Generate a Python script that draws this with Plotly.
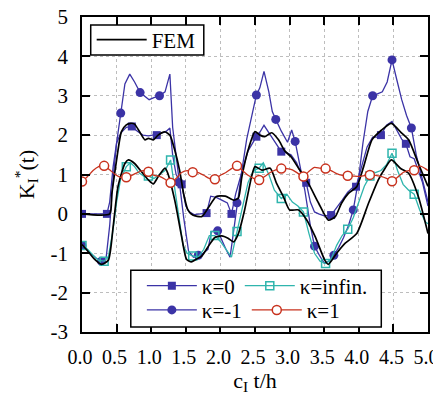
import plotly.graph_objects as go

# ---------------- data ----------------
# kappa = -1 (filled circles)
T_m1 = [0.00, 0.10, 0.20, 0.28, 0.35, 0.40, 0.45, 0.50, 0.56, 0.62, 0.69, 0.76, 0.84, 0.90, 0.97, 1.04,
        1.12, 1.20, 1.27, 1.31, 1.36, 1.40, 1.47, 1.54, 1.61, 1.68, 1.75, 1.82, 1.87, 1.96, 2.02, 2.08,
        2.14, 2.24, 2.31, 2.38, 2.45, 2.52, 2.57, 2.63, 2.70, 2.75, 2.80, 2.88, 2.97, 3.03, 3.08, 3.15,
        3.22, 3.30, 3.36, 3.43, 3.50, 3.57, 3.64, 3.71, 3.78, 3.85, 3.92, 3.99, 4.06, 4.13, 4.20, 4.27,
        4.34, 4.41, 4.48, 4.55, 4.62, 4.69, 4.76, 4.83, 4.90, 4.96, 5.00]
K_m1 = [-0.80, -0.95, -1.12, -1.20, -1.10, -0.30, 0.90, 1.80, 2.56, 3.30, 3.55, 3.35, 3.08, 3.00, 2.90, 2.95,
        3.00, 3.10, 3.55, 2.20, 1.50, 0.80, -0.10, -0.95, -1.10, -1.05, -1.00, -0.90, -0.45, -0.43, -0.67, -0.90,
        -1.10, 0.28, 1.10, 1.90, 2.50, 3.02, 3.20, 3.62, 3.10, 2.60, 2.40, 2.10, 1.82, 2.13, 1.84, 1.20,
        0.60, -0.30, -0.82, -1.05, -1.25, -1.20, -1.05, -0.85, -0.60, -0.30, 0.10, 0.80, 1.80, 2.60, 3.00, 3.05,
        3.10, 3.35, 3.91, 3.40, 2.90, 2.50, 2.18, 1.50, 1.00, 0.60, 0.30]

# kappa = 0 (filled squares)
T_0 = [0.00, 0.18, 0.36, 0.40, 0.45, 0.50, 0.56, 0.64, 0.72, 0.80, 0.88, 0.96, 1.02, 1.08, 1.16, 1.22,
       1.27, 1.31, 1.36, 1.44, 1.50, 1.55, 1.62, 1.70, 1.80, 1.86, 1.94, 2.02, 2.10, 2.16, 2.22, 2.30,
       2.40, 2.52, 2.58, 2.63, 2.70, 2.78, 2.88, 2.96, 3.02, 3.10, 3.16, 3.24, 3.30, 3.36, 3.42, 3.50,
       3.60, 3.68, 3.76, 3.84, 3.90, 3.96, 4.04, 4.12, 4.20, 4.26, 4.32, 4.40, 4.48, 4.56, 4.62, 4.68,
       4.74, 4.80, 4.86, 4.92, 5.00]
K_0 = [0.00, 0.00, 0.00, 0.30, 1.20, 1.80, 2.05, 2.20, 2.22, 2.10, 2.00, 1.98, 2.00, 2.00, 2.05, 2.10,
       2.18, 1.50, 1.00, 0.75, 0.20, 0.05, -0.02, 0.00, 0.02, 0.45, 0.42, 0.35, 0.28, 0.00, 0.50, 1.00,
       1.60, 1.96, 2.10, 2.25, 2.05, 1.85, 1.58, 1.55, 1.50, 1.30, 1.05, 0.79, 0.30, 0.05, 0.00, -0.05,
       -0.03, 0.15, 0.35, 0.55, 0.65, 0.69, 1.20, 1.70, 1.95, 1.95, 2.00, 2.25, 2.35, 2.10, 1.90, 1.78,
       1.45, 1.40, 1.10, 0.80, 0.20]

# kappa = infinity (open squares)
T_inf = [0.00, 0.08, 0.16, 0.24, 0.32, 0.38, 0.44, 0.50, 0.56, 0.64, 0.70, 0.76, 0.82, 0.90, 0.96, 1.04,
         1.12, 1.20, 1.28, 1.34, 1.40, 1.46, 1.52, 1.60, 1.68, 1.76, 1.84, 1.92, 2.00, 2.08, 2.16, 2.24,
         2.32, 2.40, 2.48, 2.56, 2.62, 2.70, 2.78, 2.88, 2.96, 3.04, 3.12, 3.20, 3.28, 3.36, 3.44, 3.52,
         3.60, 3.68, 3.76, 3.84, 3.92, 4.00, 4.08, 4.16, 4.24, 4.32, 4.40, 4.48, 4.56, 4.64, 4.72, 4.80,
         4.88, 4.96, 5.00]
K_inf = [-0.80, -0.90, -1.05, -1.18, -1.20, -1.10, -0.50, 0.30, 0.90, 1.20, 1.30, 1.20, 1.05, 0.95, 0.96, 0.90,
         1.00, 1.10, 1.37, 0.60, -0.10, -0.80, -1.00, -1.07, -1.10, -0.90, -0.55, -0.55, -0.70, -0.90, -1.10, -0.45,
         0.20, 0.80, 1.10, 1.16, 1.30, 1.00, 0.60, 0.39, 0.50, 0.30, 0.20, 0.05, -0.50, -1.00, -1.20, -1.26,
         -1.15, -0.80, -0.55, -0.39, -0.10, 0.30, 0.70, 0.96, 1.05, 1.10, 1.25, 1.54, 1.10, 0.75, 0.60, 0.50,
         0.10, -0.20, -0.25]

# kappa = 1 (open circles)
T_1 = [0.00, 0.08, 0.16, 0.24, 0.32, 0.40, 0.48, 0.56, 0.64, 0.72, 0.80, 0.88, 0.96, 1.04, 1.12, 1.20,
       1.28, 1.36, 1.44, 1.52, 1.60, 1.68, 1.76, 1.84, 1.92, 2.00, 2.08, 2.16, 2.24, 2.32, 2.40, 2.48,
       2.56, 2.64, 2.72, 2.80, 2.88, 2.96, 3.04, 3.12, 3.20, 3.28, 3.36, 3.44, 3.52, 3.60, 3.68, 3.76,
       3.84, 3.92, 4.00, 4.08, 4.16, 4.24, 4.32, 4.40, 4.48, 4.56, 4.64, 4.72, 4.80, 4.88, 4.96, 5.00]
K_1 = [0.82, 0.95, 1.10, 1.20, 1.22, 1.12, 1.00, 0.93, 0.93, 0.98, 1.05, 1.10, 1.07, 0.98, 0.95, 0.88,
       0.79, 0.90, 1.05, 1.10, 1.06, 1.05, 0.98, 0.90, 0.88, 0.98, 1.05, 1.15, 1.22, 1.10, 0.98, 0.90,
       0.86, 0.95, 1.05, 1.12, 1.15, 1.15, 1.12, 1.03, 0.95, 1.08, 1.18, 1.16, 1.15, 1.10, 1.02, 0.98,
       0.97, 0.96, 0.95, 0.97, 0.99, 0.98, 0.95, 0.90, 0.83, 0.93, 1.05, 1.10, 1.11, 1.22, 1.15, 1.10]

# FEM, two curves
T_fa = [0.00, 0.40, 0.43, 0.50, 0.57, 0.64, 0.70, 0.76, 0.83, 0.91, 0.96, 1.03, 1.10, 1.20, 1.27, 1.34,
        1.41, 1.47, 1.53, 1.60, 1.73, 1.82, 1.94, 2.07, 2.19, 2.26, 2.31, 2.40, 2.50, 2.57, 2.64, 2.74,
        2.84, 2.93, 3.02, 3.13, 3.27, 3.42, 3.56, 3.66, 3.75, 3.85, 3.97, 4.07, 4.19, 4.33, 4.47, 4.62,
        4.72, 4.86, 5.00]
K_fa = [0.00, 0.00, 0.50, 1.37, 2.09, 2.26, 2.30, 2.28, 2.09, 1.88, 1.92, 1.88, 2.00, 2.08, 2.00, 1.62,
        1.11, 0.50, 0.10, -0.03, -0.07, 0.14, 0.44, 0.45, 0.35, 0.40, 0.94, 1.62, 2.09, 2.00, 1.96, 2.06,
        1.88, 1.60, 1.45, 1.16, 0.78, 0.27, -0.16, -0.07, 0.27, 0.52, 0.69, 1.20, 1.88, 2.13, 2.30, 2.05,
        1.88, 1.28, 0.70]
T_fb = [0.00, 0.09, 0.18, 0.28, 0.38, 0.45, 0.52, 0.62, 0.67, 0.76, 0.86, 0.96, 1.03, 1.10, 1.20, 1.24,
        1.34, 1.44, 1.51, 1.58, 1.65, 1.73, 1.82, 1.92, 2.02, 2.11, 2.19, 2.26, 2.35, 2.45, 2.50, 2.60,
        2.72, 2.81, 2.91, 3.00, 3.13, 3.25, 3.37, 3.51, 3.56, 3.68, 3.80, 3.97, 4.14, 4.28, 4.38, 4.47,
        4.60, 4.72, 4.86, 5.00]
K_fb = [-0.78, -0.96, -1.15, -1.28, -1.18, -0.33, 0.69, 1.28, 1.37, 1.28, 1.07, 0.86, 0.76, 0.94, 1.16, 1.03,
        0.35, -0.58, -1.15, -1.22, -1.15, -1.07, -0.84, -0.60, -0.56, -0.62, -0.71, -0.50, 0.10, 0.94, 1.20, 1.11,
        1.16, 0.78, 0.44, 0.10, 0.10, -0.16, -0.58, -1.18, -1.28, -1.00, -0.75, -0.50, 0.27, 0.86, 1.16, 1.37,
        1.16, 1.03, 0.44, -0.50]

X_TICKS = [0.0, 0.5, 1.0, 1.5, 2.0, 2.5, 3.0, 3.5, 4.0, 4.5, 5.0]
X_TICKTEXT = ["0.0", "0.5", "1.0", "1.5", "2.0", "2.5", "3.0", "3.5", "4.0", "4.5", "5.0"]
Y_TICKS = [-3, -2, -1, 0, 1, 2, 3, 4, 5]
Y_TICKTEXT = ["-3", "-2", "-1", "0", "1", "2", "3", "4", "5"]

# ---------------- styling ----------------
BLUE = "#3b33a6"
CYAN = "#2fb5ad"
RED = "#c8321e"
FONT = "Liberation Serif"
LW = 1.3


def marked(T, K, step):
    xs, ys = [], []
    for t, k in zip(T, K):
        q = t / step
        if abs(q - round(q)) < 1e-6:
            xs.append(t)
            ys.append(k)
    return xs, ys


fig = go.Figure()

series = [
    (T_0, K_0, BLUE, dict(symbol="square", size=8, color=BLUE), 0.36),
    (T_m1, K_m1, BLUE, dict(symbol="circle", size=9, color=BLUE), 0.28),
    (T_inf, K_inf, CYAN, dict(symbol="square-open", size=8, color=CYAN, line=dict(width=1.5)), 0.32),
]
for T, K, col, mk, step in series:
    fig.add_trace(go.Scatter(x=T, y=K, mode="lines", line=dict(color=col, width=LW),
                             showlegend=False, hoverinfo="skip"))
    mx, my = marked(T, K, step)
    fig.add_trace(go.Scatter(x=mx, y=my, mode="markers", marker=mk, showlegend=False))

# FEM
fig.add_trace(go.Scatter(x=T_fa, y=K_fa, mode="lines",
                         line=dict(color="black", width=1.7, shape="spline", smoothing=0.6),
                         name="FEM", legend="legend", showlegend=True))
fig.add_trace(go.Scatter(x=T_fb, y=K_fb, mode="lines",
                         line=dict(color="black", width=1.7, shape="spline", smoothing=0.6),
                         showlegend=False))

# kappa = 1 drawn on top
fig.add_trace(go.Scatter(x=T_1, y=K_1, mode="lines",
                         line=dict(color=RED, width=LW, shape="spline", smoothing=0.6),
                         showlegend=False))
mx, my = marked(T_1, K_1, 0.32)
fig.add_trace(go.Scatter(x=mx, y=my, mode="markers",
                         marker=dict(symbol="circle", size=9, color="white", line=dict(color=RED, width=1.5)),
                         showlegend=False))

# legend-only entries for the kappa legend: row 1 and row 2
legend_entries = [
    ("κ=0", BLUE, dict(symbol="square", size=8, color=BLUE), "legend2"),
    ("κ=infin.", CYAN, dict(symbol="square-open", size=8, color=CYAN, line=dict(width=1.5)), "legend2"),
    ("κ=-1", BLUE, dict(symbol="circle", size=9, color=BLUE), "legend3"),
    ("κ=1", RED, dict(symbol="circle", size=9, color="white", line=dict(color=RED, width=1.5)), "legend3"),
]
for name, col, mk, lg in legend_entries:
    fig.add_trace(go.Scatter(x=[None], y=[None], mode="lines+markers", name=name,
                             line=dict(color=col, width=LW), marker=mk, legend=lg))

axis_common = dict(showline=True, linecolor="black", linewidth=1.5, mirror="ticks",
                   ticks="inside", ticklen=8, tickwidth=1.5, tickcolor="black",
                   showgrid=True, gridcolor="#bdbdbd", gridwidth=1, griddash="dot",
                   zeroline=False, automargin=False, ticklabeloverflow="allow")

row_legend = dict(xanchor="left", yanchor="middle", bgcolor="rgba(0,0,0,0)", borderwidth=0,
                  orientation="h", itemwidth=50, font=dict(family=FONT, size=21))

box_style = dict(type="rect", xref="paper", yref="paper",
                 line=dict(color="black", width=1.5), fillcolor="white", layer="above")

fig.update_layout(
    width=441, height=397,
    # the page body adds an 8 px offset; margins compensate so the plot area sits where the reference has it
    margin=dict(l=74.3, r=21.3, t=9, b=73.3, autoexpand=False),
    paper_bgcolor="white", plot_bgcolor="white",
    font=dict(family=FONT, size=21, color="black"),
    xaxis=dict(range=[0, 5], tickvals=X_TICKS, ticktext=X_TICKTEXT,
               tickfont=dict(family=FONT, size=20, color="black"), ticklabelshift=-2,
               title=dict(text="c<sub>I</sub> t/h", font=dict(family=FONT, size=22), standoff=4),
               ticklabelstandoff=6, **axis_common),
    yaxis=dict(range=[-3, 5], tickvals=Y_TICKS, ticktext=Y_TICKTEXT,
               tickfont=dict(family=FONT, size=21, color="black"),
               title=dict(text="K<sub>I</sub><sup>*</sup>(t)", font=dict(family=FONT, size=22), standoff=10),
               ticklabelstandoff=8, **axis_common),
    legend=dict(x=0.028, y=0.927, **row_legend),
    legend2=dict(x=0.173, y=0.146, **row_legend),
    legend3=dict(x=0.173, y=0.069, **row_legend),
    shapes=[dict(x0=0.0252, x1=0.352, y0=0.879, y1=0.975, **box_style),
            dict(x0=0.141, x1=0.865, y0=0.016, y1=0.196, **box_style)],
    showlegend=True,
)

fig.write_html("out.html")
